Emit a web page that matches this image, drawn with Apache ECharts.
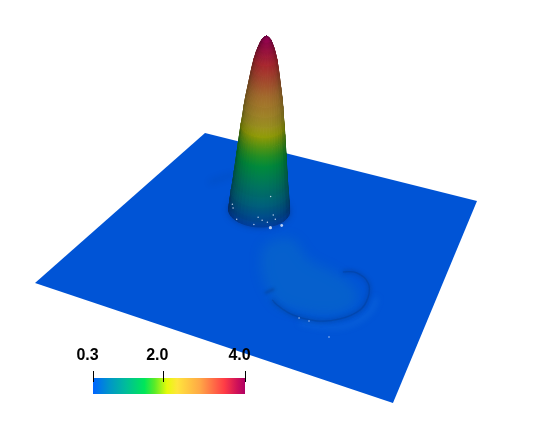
<!DOCTYPE html>
<html>
<head>
<meta charset="utf-8">
<style>
    html, body { margin: 0; padding: 0; background: #fff; }
    #chart { width: 538px; height: 434px; }
</style>
<script src="https://cdn.jsdelivr.net/npm/echarts@6/dist/echarts.min.js"></script>
</head>
<body>
<div id="chart"></div>
<script>
    // colour scale
    var scaleTicks = [0.3, 2.0, 4.0]
    var scaleValues = [0.3, 0.7, 1.1, 1.55, 1.8, 2.1, 2.35, 2.9, 3.5, 3.8, 4.0]
    var scaleColors = ['#0064ff', '#0096c8', '#00bd9a', '#00e65a', '#5aeb28', '#e6fa0a', '#ffe53c', '#ffa846', '#ff3c46', '#d01258', '#af0064']

    // peak, ring by ring: value and radius (in plate units)
    var peakValues = [0.3, 0.4, 0.5, 0.7, 0.9, 1.1, 1.3, 1.5, 1.7, 1.9, 2.1, 2.3, 2.5, 2.7, 2.9, 3.1, 3.3, 3.5, 3.65, 3.75, 3.85, 3.92, 3.97, 4.0]
    var peakRadii = [0.096, 0.094, 0.093, 0.090, 0.086, 0.083, 0.080, 0.077, 0.074, 0.071, 0.068, 0.064, 0.061, 0.057, 0.052, 0.047, 0.042, 0.036, 0.030, 0.025, 0.019, 0.014, 0.008, 0.000]

    // ripple on the plate, front arc and the short hook left of it
    var rippleU = [0.600, 0.620, 0.673, 0.739, 0.790, 0.826, 0.829, 0.810, 0.767, 0.730]
    var rippleV = [0.778, 0.792, 0.811, 0.805, 0.770, 0.711, 0.648, 0.588, 0.558, 0.572]
    var hookU = [0.571, 0.586]
    var hookV = [0.760, 0.732]
    // lighter rim just outside the ripple
    var rimU = [0.700, 0.800, 0.850, 0.850]
    var rimV = [0.830, 0.800, 0.720, 0.640]
    // slightly raised patch inside the ripple
    var patchU = [0.483, 0.532, 0.626, 0.694, 0.772, 0.808, 0.783, 0.685, 0.596]
    var patchV = [0.579, 0.484, 0.561, 0.580, 0.617, 0.673, 0.751, 0.791, 0.771]
    // faint wake behind the peak
    var wakeU = [0.174, 0.195, 0.222]
    var wakeV = [0.307, 0.269, 0.222]
    // bright mesh specks
    var speckU = [0.458, 0.484, 0.387, 0.401, 0.419, 0.438, 0.438, 0.453, 0.310, 0.298, 0.347, 0.406, 0.692, 0.720, 0.788]
    var speckV = [0.460, 0.433, 0.293, 0.424, 0.434, 0.437, 0.391, 0.410, 0.413, 0.393, 0.465, 0.467, 0.815, 0.815, 0.850]
    var speckSize = [3.2, 2.8, 1.5, 1.5, 1.5, 1.5, 1.5, 1.5, 1.5, 1.5, 1.5, 1.5, 1.5, 1.5, 1.5]

    var plateValue = 0.3
    var plateShade = 0.84
    var peakU = 0.387, peakV = 0.385

    // camera: unit plate -> picture, value lifts it up
    var H = { a: 223.96, b: -179.23, c: 205, d: 47.76, e: 75.34, f: 133, g: -0.1007, h: -0.2638 }
    var liftY = 47, liftX = 2

    function project(u, v, val) {
        var w = H.g * u + H.h * v + 1
        var up = (val || plateValue) - plateValue
        return [(H.a * u + H.b * v + H.c) / w + up * liftX, (H.d * u + H.e * v + H.f) / w - up * liftY]
    }

    function colorOf(val) {
        for (var i = 1; i < scaleValues.length; i++) {
            if (val <= scaleValues[i]) {
                var t = (val - scaleValues[i - 1]) / (scaleValues[i] - scaleValues[i - 1])
                return echarts.color.lerp(t, [scaleColors[i - 1], scaleColors[i]])
            }
        }
        return scaleColors[scaleColors.length - 1]
    }

    function shaded(color, k) {
        var c = echarts.color.parse(color)
        return 'rgb(' + Math.round(c[0] * k) + ',' + Math.round(c[1] * k) + ',' + Math.round(c[2] * k) + ')'
    }

    function pointsOf(us, vs, api) {
        return us.map(function (u, i) {
            return api.coord(project(u, vs[i]))
        })
    }

    // soft mark: the shape sits off the page, only its blurred shadow lands on the plate
    var away = 1200
    function soft(type, points, color, blur, width) {
        var moved = points.map(function (p) { return [p[0] - away, p[1]] })
        var style = { shadowBlur: blur, shadowColor: color, shadowOffsetX: away }
        if (type === 'polygon') {
            style.fill = '#000'
        } else {
            style.fill = null
            style.stroke = '#000'
            style.lineWidth = width
        }
        return { type: type, shape: { points: moved, smooth: 0.4 }, style: style }
    }

    var chart = echarts.init(document.getElementById('chart'))

    var bandCount = peakValues.length - 1
    var sectors = 44
    var frontAngle = 1.15

    function renderBand(params, api) {
        var i = api.value(0)
        var children = []
        var slope = Math.min(1, (peakRadii[i] - peakRadii[i + 1]) / (peakValues[i + 1] - peakValues[i]) / 0.1)
        var low = colorOf(peakValues[i]), high = colorOf(peakValues[i + 1])
        for (var s = 0; s < sectors; s++) {
            var t1 = s / sectors * Math.PI * 2, t2 = (s + 1) / sectors * Math.PI * 2
            var facing = Math.cos((t1 + t2) / 2 - frontAngle)
            if (facing < -0.1) continue
            var ring = function (k, t) {
                return api.coord(project(peakU + peakRadii[k] * Math.cos(t), peakV + peakRadii[k] * Math.sin(t), peakValues[k]))
            }
            var p1 = ring(i, t1), p2 = ring(i, t2), p3 = ring(i + 1, t2), p4 = ring(i + 1, t1)
            var k = 0.38 + 0.2 * Math.max(0, facing) + 0.22 * slope
            var fill = {
                type: 'linear', global: true,
                x: (p1[0] + p2[0]) / 2, y: (p1[1] + p2[1]) / 2,
                x2: (p3[0] + p4[0]) / 2 + 0.01, y2: (p3[1] + p4[1]) / 2,
                colorStops: [{ offset: 0, color: shaded(low, k) }, { offset: 1, color: shaded(high, k) }]
            }
            children.push({
                type: 'polygon',
                shape: { points: [p1, p2, p3, p4] },
                style: { fill: fill, stroke: fill, lineWidth: 1 }
            })
        }
        return { type: 'group', children: children }
    }

    function renderPlate(params, api) {
        return {
            type: 'polygon',
            shape: { points: pointsOf([0, 1, 1, 0], [0, 0, 1, 1], api) },
            style: { fill: shaded(colorOf(plateValue), plateShade) }
        }
    }

    function renderRelief(params, api) {
        var base = []
        for (var s = 0; s <= 40; s++) {
            var t = s / 40 * Math.PI * 2
            base.push(api.coord(project(peakU + peakRadii[0] * Math.cos(t), peakV + peakRadii[0] * Math.sin(t))))
        }
        return {
            type: 'group',
            children: [
                soft('polygon', pointsOf(patchU, patchV, api), 'rgba(20,125,185,0.3)', 12),
                soft('polyline', pointsOf(rimU, rimV, api), 'rgba(40,140,230,0.35)', 6, 3),
                soft('polyline', pointsOf(rippleU, rippleV, api), 'rgba(8,55,125,0.6)', 4, 2),
                {
                    type: 'polyline',
                    shape: { points: pointsOf(rippleU, rippleV, api), smooth: 0.4 },
                    style: { fill: null, stroke: 'rgba(8,55,125,0.28)', lineWidth: 1.3 }
                },
                soft('polyline', pointsOf(hookU, hookV, api), 'rgba(8,55,125,0.55)', 3, 2),
                soft('polyline', pointsOf(wakeU, wakeV, api), 'rgba(8,55,125,0.22)', 6, 3),
                soft('polygon', base, 'rgba(8,50,120,0.7)', 6),
                { type: 'polygon', shape: { points: base }, style: { fill: '#0d3f82' } }
            ]
        }
    }

    function renderScale(params, api) {
        // the bar starts a little above the axis, the ticks dip into it
        var from = api.coord([scaleTicks[0], 0])
        var to = api.coord([scaleTicks[scaleTicks.length - 1], 4 / 3])
        var span = scaleTicks[scaleTicks.length - 1] - scaleTicks[0]
        return {
            type: 'rect',
            shape: { x: from[0], y: to[1], width: to[0] - from[0], height: from[1] - to[1] },
            style: {
                fill: new echarts.graphic.LinearGradient(0, 0, 1, 0, scaleValues.map(function (v, i) {
                    return { offset: (v - scaleTicks[0]) / span, color: scaleColors[i] }
                }))
            }
        }
    }

    chart.setOption({
        animation: false,
        backgroundColor: '#fff',
        grid: [
            { left: 0, top: 0, width: 538, height: 434 },
            { left: 93, top: 382, width: 152, height: 12 }
        ],
        xAxis: [
            { type: 'value', gridIndex: 0, min: 0, max: 538, show: false },
            {
                type: 'value', gridIndex: 1, position: 'top', z: 10,
                min: scaleTicks[0], max: scaleTicks[scaleTicks.length - 1],
                splitLine: { show: false },
                axisLine: { show: false, onZero: false },
                axisTick: { show: true, customValues: scaleTicks, length: 11, lineStyle: { color: '#000', width: 1 } },
                axisLabel: {
                    customValues: scaleTicks, margin: 18, color: '#000',
                    fontFamily: 'Liberation Sans', fontSize: 16, fontWeight: 'bold',
                    padding: [0, 11, 0, 0],
                    formatter: function (v) { return v.toFixed(1) }
                }
            }
        ],
        yAxis: [
            { type: 'value', gridIndex: 0, min: 0, max: 434, inverse: true, show: false },
            { type: 'value', gridIndex: 1, min: 0, max: 1, show: false }
        ],
        series: [
            { type: 'custom', xAxisIndex: 0, yAxisIndex: 0, data: [[0]], renderItem: renderPlate, clip: false, silent: true, z: 1 },
            { type: 'custom', xAxisIndex: 0, yAxisIndex: 0, data: [[0]], renderItem: renderRelief, clip: false, silent: true, z: 2 },
            {
                type: 'custom', xAxisIndex: 0, yAxisIndex: 0, clip: false, silent: true, z: 3,
                data: peakValues.slice(0, bandCount).map(function (v, i) { return [i, v] }),
                renderItem: renderBand
            },
            {
                type: 'scatter', xAxisIndex: 0, yAxisIndex: 0, silent: true, z: 4,
                itemStyle: { color: '#e6efff' },
                symbolSize: function (val, params) { return speckSize[params.dataIndex] },
                data: speckU.map(function (u, i) { return project(u, speckV[i]) })
            },
            { type: 'custom', xAxisIndex: 1, yAxisIndex: 1, data: [[0]], renderItem: renderScale, clip: false, silent: true, z: 2 }
        ]
    })
</script>
</body>
</html>
